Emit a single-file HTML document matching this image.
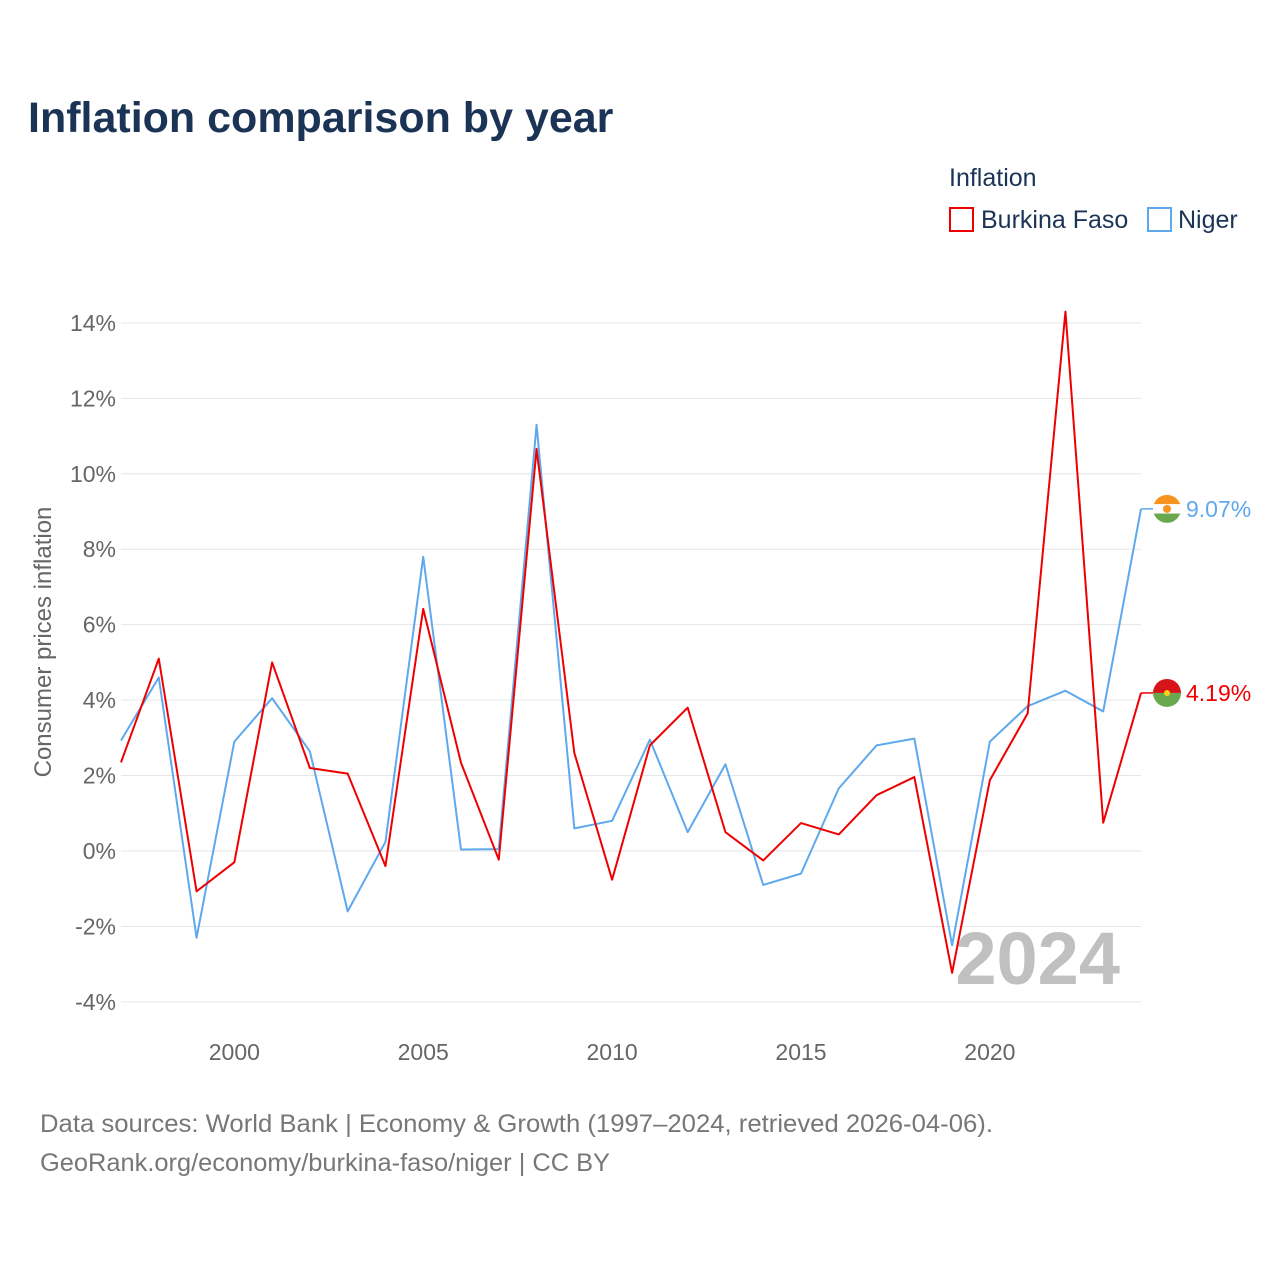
<!DOCTYPE html>
<html><head><meta charset="utf-8"><style>
body{margin:0;background:#fff;font-family:"Liberation Sans",sans-serif;}
svg text{font-family:"Liberation Sans",sans-serif;}
</style></head><body>
<svg width="1280" height="1280" xmlns="http://www.w3.org/2000/svg" id="chart">
<text x="28" y="132" font-size="43" font-weight="bold" fill="#1b3456">Inflation comparison by year</text>
<g>
<text x="949" y="186" font-size="25" fill="#1b3456">Inflation</text>
<g><rect x="950" y="208" width="23" height="23" fill="none" stroke="#ee0000" stroke-width="2"/><text x="981" y="228" font-size="25" fill="#1b3456">Burkina Faso</text></g>
<g><rect x="1148" y="208" width="23" height="23" fill="none" stroke="#5ea9ed" stroke-width="2"/><text x="1178" y="228" font-size="25" fill="#1b3456">Niger</text></g>
</g>
<g id="grid"></g>
<g id="yticks"></g>
<g id="xticks"></g>
<text transform="translate(51,642) rotate(-90)" text-anchor="middle" font-size="24" fill="#666">Consumer prices inflation</text>
<text x="1120" y="984" text-anchor="end" font-size="74" font-weight="bold" fill="#c0c0c0">2024</text>
<g id="series"></g>
<text x="40" y="1132" font-size="25" fill="#777" textLength="953" lengthAdjust="spacingAndGlyphs">Data sources: World Bank | Economy &amp; Growth (1997–2024, retrieved 2026-04-06).</text>
<text x="40" y="1171" font-size="25" fill="#777" textLength="570" lengthAdjust="spacingAndGlyphs">GeoRank.org/economy/burkina-faso/niger | CC BY</text>
</svg>
<script>
const years=[1997,1998,1999,2000,2001,2002,2003,2004,2005,2006,2007,2008,2009,2010,2011,2012,2013,2014,2015,2016,2017,2018,2019,2020,2021,2022,2023,2024];
const burkina=[2.35,5.1,-1.07,-0.3,5.0,2.2,2.05,-0.4,6.42,2.34,-0.23,10.66,2.6,-0.76,2.8,3.8,0.5,-0.25,0.74,0.44,1.48,1.96,-3.23,1.88,3.65,14.3,0.75,4.19];
const niger=[2.93,4.6,-2.3,2.9,4.05,2.64,-1.6,0.24,7.8,0.04,0.05,11.3,0.6,0.8,2.95,0.5,2.3,-0.9,-0.6,1.66,2.8,2.98,-2.5,2.9,3.84,4.25,3.7,9.07];
const yTicks=[-4,-2,0,2,4,6,8,10,12,14];
const xTicks=[2000,2005,2010,2015,2020];
const NS="http://www.w3.org/2000/svg";
const X=y=>121+(y-1997)*(1141-121)/27;
const Y=v=>851-v*37.72;
function mk(t,a,p){const e=document.createElementNS(NS,t);for(const k in a)e.setAttribute(k,a[k]);p.appendChild(e);return e;}
const grid=document.getElementById('grid'),yt=document.getElementById('yticks'),xt=document.getElementById('xticks'),ser=document.getElementById('series');
yTicks.forEach(v=>{
const l=mk('line',{x1:121,x2:1141,y1:Y(v),y2:Y(v),stroke:'#e6e6e6','stroke-width':1},grid);


const t=mk('text',{x:116,y:Y(v)+8,'text-anchor':'end','font-size':23,fill:'#666'},yt);t.textContent=v+'%';


});
xTicks.forEach(v=>{
const t=mk('text',{x:X(v),y:1060,'text-anchor':'middle','font-size':23,fill:'#666'},xt);t.textContent=v;


});
function line(data,color,name){
const p=mk('polyline',{points:data.map((v,i)=>X(years[i])+','+Y(v)).join(' '),fill:'none',stroke:color,'stroke-width':2,'stroke-linejoin':'round'},ser);


const last=data[data.length-1],ly=Y(last);
mk('line',{x1:1141,x2:1153,y1:ly,y2:ly,stroke:color,'stroke-width':1.5},ser);
const t=mk('text',{x:1186,y:ly+8,'font-size':23,fill:color},ser);t.textContent=last.toFixed(2)+'%';


return ly;
}
const ny=line(niger,'#5ea9ed','niger');
const by=line(burkina,'#ee0000','burkina-faso');
function flag(cy,top,mid,bot,dot,name){
const g=mk('g',{},ser);


const cx=1167,r=14;
const id='c'+name;
const cp=mk('clipPath',{id:id},g);mk('circle',{cx:cx,cy:cy,r:r},cp);
const h=mid?2*r/3:r;
mk('rect',{x:cx-r,y:cy-r,width:2*r,height:mid?h:r,fill:top,'clip-path':'url(#'+id+')'},g);
if(mid)mk('rect',{x:cx-r,y:cy-r+h,width:2*r,height:h,fill:mid,'clip-path':'url(#'+id+')'},g);
mk('rect',{x:cx-r,y:mid?cy-r+2*h:cy,width:2*r,height:mid?h:r,fill:bot,'clip-path':'url(#'+id+')'},g);
mk('circle',{cx:cx,cy:cy,r:mid?4:3,fill:dot},g);
}
flag(ny,'#f7941d','#ffffff','#6aa84f','#f7941d','niger');
flag(by,'#d7141a',null,'#6aa84f','#fcd116','burkina-faso');
</script>
</body></html>
